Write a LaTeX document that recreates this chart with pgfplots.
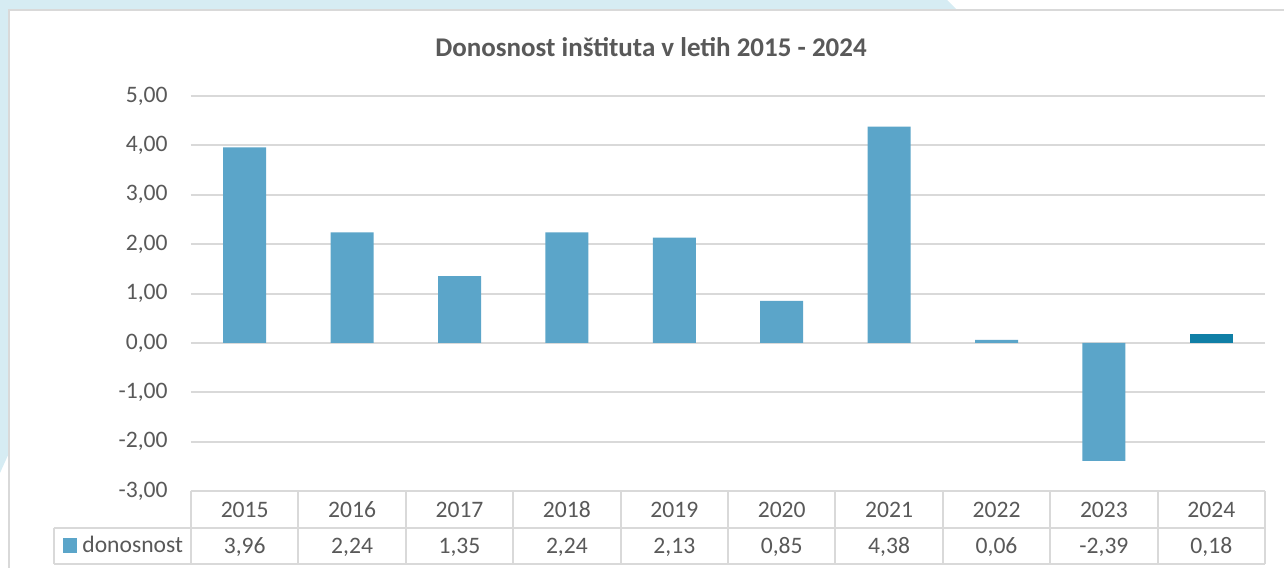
\documentclass[border=0pt]{standalone}
\usepackage{pgfplots}
\pgfplotsset{compat=1.18}
\usepackage{fontspec}
\setmainfont{Carlito}
\usetikzlibrary{backgrounds}
\definecolor{bgblue}{HTML}{D6ECF3}
\definecolor{gridc}{HTML}{D9D9D9}
\definecolor{txt}{HTML}{595959}
\definecolor{barc}{HTML}{5BA5C9}
\definecolor{bardark}{HTML}{107FA6}

\begin{document}
\begin{tikzpicture}
\begin{axis}[
    name=ax,
    scale only axis,
    width=537bp, height=197.5bp,
    xmin=-0.5, xmax=9.5,
    ymin=-3, ymax=5,
    ytick={-3,...,5},
    xtick={0,...,9},
    xticklabels={2015,2016,2017,2018,2019,2020,2021,2022,2023,2024},
    extra x ticks={0,...,9},
    extra x tick labels={{3,96},{2,24},{1,35},{2,24},{2,13},{0,85},{4,38},{0,06},{-2,39},{0,18}},
    extra x tick style={xticklabel style={yshift=-18bp}},
    axis line style={draw=none},
    major tick length=0pt,
    ymajorgrids,
    grid style={gridc, line width=1bp},
    tick label style={font=\fontsize{11.8bp}{14bp}\selectfont, text=txt},
    yticklabel style={anchor=east, inner sep=0pt, xshift=-11.5bp,
        /pgf/number format/.cd, fixed, fixed zerofill, precision=2, use comma, assume math mode=true},
    xticklabel style={anchor=base, inner sep=0pt, yshift=-13bp},
    clip=false,
]
\addplot[ybar, bar width=21.5bp, bar shift=0pt, fill=barc, draw=none] coordinates {
(0,3.96) (1,2.24) (2,1.35) (3,2.24) (4,2.13) (5,0.85) (6,4.38) (7,0.06) (8,-2.39)
};
\addplot[ybar, bar width=21.5bp, bar shift=0pt, fill=bardark, draw=none] coordinates {
(9,0.18)
};
\end{axis}

% everything else in reference pixels, y counted from the bottom
\begin{scope}[x=0.5bp, y=0.5bp, shift={(ax.south west)}, shift={(-191,-77)}]
\useasboundingbox (0,0) rectangle (1284,568);
\begin{pgfonlayer}{background}
\fill[bgblue] (0,568) -- (947,568) -- (957,558) -- (9,558) -- (9,115) -- (0,95) -- cycle;
\fill[white] (10,0) rectangle (1284,557);
\draw[gridc, line width=1bp] (9,0) -- (9,558) -- (1284,558);
\end{pgfonlayer}
\node[font=\fontsize{13.5bp}{16bp}\selectfont\bfseries, text=txt] at (651,521) {Donosnost inštituta v letih 2015 - 2024};
% data table grid
\draw[gridc, line width=1bp] (191,77) -- (1265,77);
\draw[gridc, line width=1bp] (54,40) -- (1265,40);
\draw[gridc, line width=1bp] (54,4) -- (1265,4);
\draw[gridc, line width=1bp] (54,4) -- (54,40);
\foreach \k in {0,...,10} {
  \draw[gridc, line width=1bp] ({191+107.4*\k},4) -- ({191+107.4*\k},77);
}
\fill[barc] (63,15) rectangle (77,30);
\node[anchor=base west, inner sep=0pt, text=txt, font=\fontsize{11.8bp}{14bp}\selectfont] at (82,15) {donosnost};
\end{scope}
\end{tikzpicture}
\end{document}
